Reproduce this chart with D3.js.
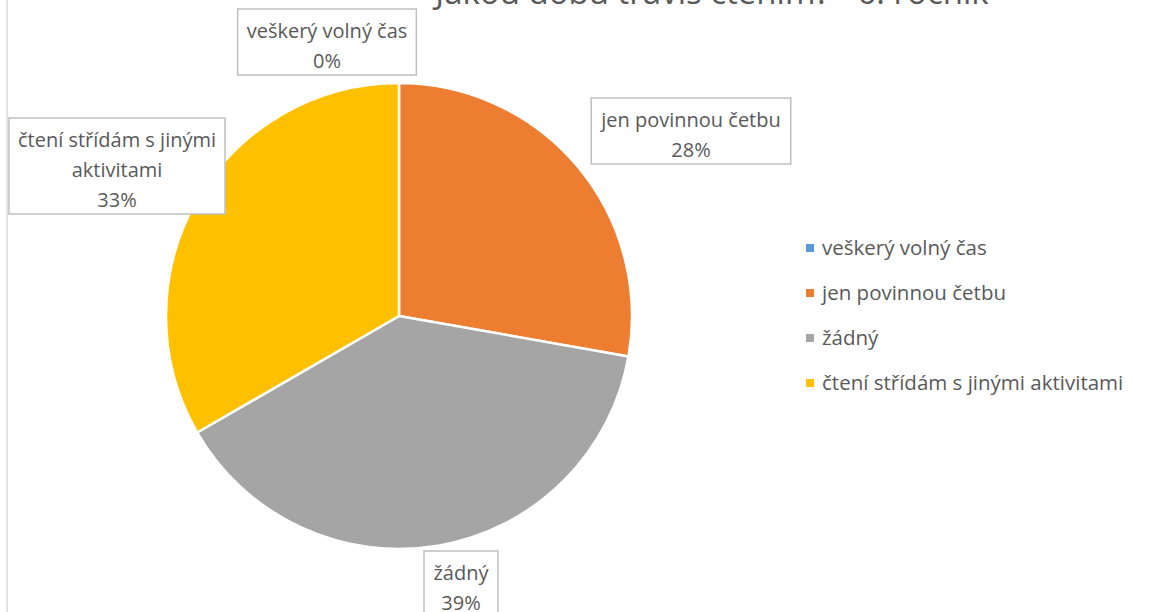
<!DOCTYPE html>
<html>
<head>
<meta charset="utf-8">
<script src="https://cdn.jsdelivr.net/npm/d3@7"></script>
<style>
  html, body { margin: 0; padding: 0; background: #fff; }
  svg { display: block; }
  text { font-family: "Open Sans", sans-serif; fill: #595959; }
</style>
</head>
<body>
<svg id="chart" width="1149" height="612"></svg>
<script>
// data
const titulek = "Jakou dobu trávíš čtením? - 6. ročník";
const kategorie = ["veškerý volný čas", "jen povinnou četbu", "žádný", "čtení střídám s jinými aktivitami"];
const pocty = [0, 5, 7, 6];
const barvy = ["#5B9BD5", "#ED7D31", "#A5A5A5", "#FFC000"];

// posun popisku od stredu kolace (jen rozlozeni)
const posunPopisku = [[-72, -274], [292, -185], [62, 268], [-282, -150]];

const svg = d3.select("#chart");
const width = 1149, height = 612;
const cx = 399, cy = 316, r = 233;

// ramecek grafu (levy okraj)
svg.append("line")
  .attr("x1", 7).attr("x2", 7).attr("y1", 0).attr("y2", height)
  .attr("stroke", "#d9d9d9").attr("stroke-width", 1.5);

// titulek
svg.append("text")
  .attr("x", 712).attr("y", 4)
  .attr("text-anchor", "middle")
  .style("font-size", "33px")
  .text(titulek);

const data = kategorie.map((k, i) => ({ kat: k, val: pocty[i], col: barvy[i] }));
const celkem = d3.sum(pocty);

const pie = d3.pie().value(d => d.val).sort(null);
const arc = d3.arc().innerRadius(0).outerRadius(r);
const oblouky = pie(data);

const g = svg.append("g").attr("transform", `translate(${cx},${cy})`);
g.selectAll("path")
  .data(oblouky)
  .join("path")
  .attr("d", arc)
  .attr("fill", d => d.data.col)
  .attr("stroke", "#fff")
  .attr("stroke-width", 2.5)
  .attr("stroke-linejoin", "round");

// popisky dat
const procenta = d3.format(".0%");
const lh = 30, pad = 9, maxW = 215;

oblouky.forEach((d, i) => {
  const lbl = g.append("g");
  // zalamovani textu
  const slova = d.data.kat.split(" ");
  const radky = [];
  let cur = "";
  const meric = lbl.append("text").style("font-size", "20px");
  slova.forEach(s => {
    const zkus = cur ? cur + " " + s : s;
    meric.text(zkus);
    if (meric.node().getComputedTextLength() > maxW && cur) {
      radky.push(cur);
      cur = s;
    } else cur = zkus;
  });
  radky.push(cur);
  meric.remove();
  radky.push(procenta(d.data.val / celkem));

  const [ox, oy] = posunPopisku[i];
  const t = lbl.append("text")
    .attr("text-anchor", "middle")
    .style("font-size", "20px");
  const h = radky.length * lh + 6;
  radky.forEach((s, j) => {
    t.append("tspan")
      .attr("x", ox)
      .attr("y", oy - h / 2 + 22 + j * lh)
      .attr("dy", "0.35em")
      .text(s);
  });
  const w = t.node().getBBox().width + pad * 2;
  lbl.insert("rect", "text")
    .attr("x", ox - w / 2).attr("y", oy - h / 2)
    .attr("width", w).attr("height", h)
    .attr("fill", "#fff")
    .attr("stroke", "#bfbfbf")
    .attr("stroke-width", 1.5);
});

// legenda
const leg = svg.append("g").attr("transform", "translate(806,248)");
const y = d3.scaleBand().domain(kategorie).range([0, 180]);
kategorie.forEach((k, i) => {
  const yy = y(k);
  leg.append("rect")
    .attr("x", 0).attr("y", yy - 4)
    .attr("width", 8).attr("height", 8)
    .attr("fill", barvy[i]);
  leg.append("text")
    .attr("x", 16).attr("y", yy)
    .attr("dy", "0.35em")
    .style("font-size", "20.5px")
    .text(k);
});
</script>
</body>
</html>
